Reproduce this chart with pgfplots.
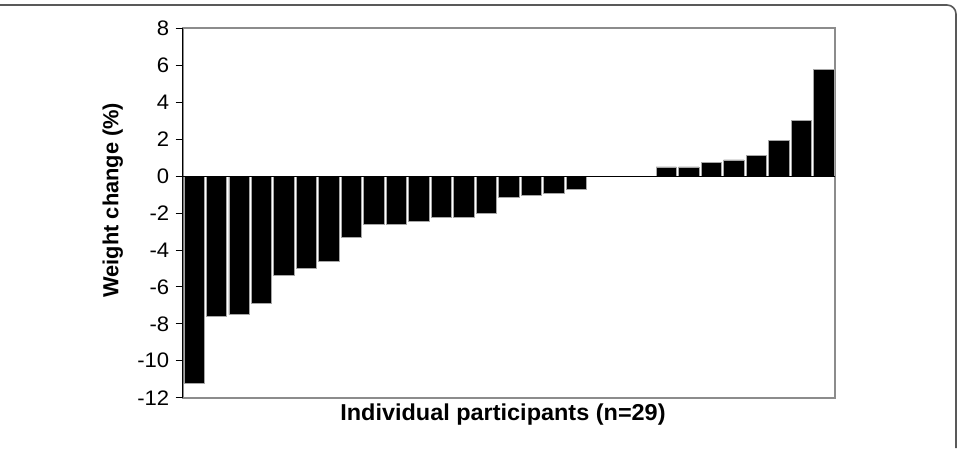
\documentclass[border=0pt]{standalone}
\usepackage{fontspec}
\setmainfont{Liberation Sans}
\newfontfamily\tickfont{Liberation Sans}[FakeStretch=1.05]
\newfontfamily\xlabfont{Liberation Sans}[FakeStretch=1.02]
\usepackage{pgfplots}
\pgfplotsset{compat=1.18}
\begin{document}
\begin{tikzpicture}[x=1pt,y=1pt]
\useasboundingbox (0,0) rectangle (959,448);
\draw[line width=1.6pt, color=black!65, rounded corners=9pt] (0,443) -- (956,443) -- (956,0);
\begin{axis}[
  at={(182.7pt,50.3pt)}, anchor=south west,
  scale only axis, width=652.3pt, height=369.4pt,
  xmin=-0.5, xmax=28.5, ymin=-12, ymax=8,
  ytick={-12,-10,-8,-6,-4,-2,0,2,4,6,8},
  xtick=\empty,
  ytick pos=left, tick align=outside,
  major tick length=7pt,
  tick style={black, line width=0.8pt},
  axis line style={draw=black!45, line width=1.6pt},
  /pgf/number format/assume math mode=true,
  yticklabel style={font=\tickfont\fontsize{21}{23}\selectfont, xshift=-3pt},
  xlabel={\xlabfont\bfseries Individual participants (n=29)},
  xlabel style={font=\fontsize{23}{25}\selectfont, at={(axis description cs:0.491,-0.045)}, anchor=center},
  ylabel={\bfseries Weight change (\%)},
  ylabel style={font=\fontsize{21.8}{24}\selectfont, at={(axis description cs:-0.107,0.535)}, anchor=center},
  extra description/.code={
    \draw[black, line width=0.9pt] (axis cs:-0.5,0) -- (axis cs:28.5,0);
    \draw[black, line width=1pt] (axis description cs:0,0) -- (axis description cs:0,1);},
  clip=false,
]
\addplot[ybar, bar width=0.9, fill=black, draw=black!35, line width=0.6pt] coordinates {
(0,-11.2) (1,-7.6) (2,-7.5) (3,-6.9) (4,-5.35) (5,-5.0) (6,-4.62) (7,-3.3)
(8,-2.6) (9,-2.6) (10,-2.47) (11,-2.24) (12,-2.24) (13,-2.0) (14,-1.16)
(15,-1.05) (16,-0.94) (17,-0.69) (18,0) (19,0) (20,0)
(21,0.5) (22,0.5) (23,0.74) (24,0.87) (25,1.1) (26,1.95) (27,3.01) (28,5.78)
};
\end{axis}
\end{tikzpicture}
\end{document}
